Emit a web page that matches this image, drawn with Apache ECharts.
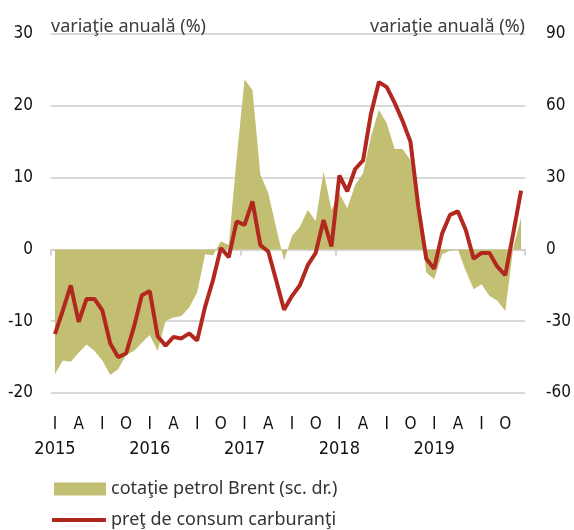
<!DOCTYPE html>
<html>
<head>
<meta charset="utf-8">
<script src="https://cdn.jsdelivr.net/npm/echarts@6/dist/echarts.min.js"></script>
<style>
  html, body { margin: 0; padding: 0; background: #fff; }
  #chart { width: 574px; height: 530px; }
</style>
</head>
<body>
<div id="chart"></div>
<script>
// ani si litere de luna (I = ianuarie, A = aprilie, I = iulie, O = octombrie)
var years = ['2015', '2016', '2017', '2018', '2019'];
var quarterLetters = ['I', 'A', 'I', 'O'];

// luni: 2015-01 ... 2019-12
var months = [];
years.forEach(function (y) {
    for (var m = 1; m <= 12; m++) {
        months.push(y + '-' + (m < 10 ? '0' + m : m));
    }
});

// cotatie petrol Brent, variatie anuala (%) - scala dreapta
var brent = [
    -52.2, -46.4, -46.9, -43.2, -39.7, -42.5, -46.4, -52.5, -50.1, -44.1, -42.5, -39.0,
    -35.8, -42.5, -29.9, -28.5, -27.8, -24.3, -18.0, -2.0, -2.4, 3.4, 1.8, 38.0,
    71.0, 66.6, 31.3, 23.6, 9.0, -4.6, 5.6, 9.5, 16.5, 11.9, 32.5, 16.5,
    23.4, 17.2, 26.9, 31.8, 47.2, 58.3, 52.7, 42.0, 42.0, 37.4, 18.0, -9.7,
    -12.5, -2.0, -0.6, 0.0, -9.0, -16.7, -14.6, -19.5, -21.5, -25.7, 0.5, 13.3
];

// pret de consum carburanti, variatie anuala (%) - scala stanga
var fuel = [
    -11.8, -8.5, -5.0, -10.1, -6.9, -6.9, -8.5, -13.1, -15.0, -14.5, -10.8, -6.4,
    -5.8, -12.1, -13.4, -12.2, -12.4, -11.7, -12.7, -8.0, -4.3, 0.2, -1.1, 3.9,
    3.4, 6.7, 0.6, -0.3, -4.3, -8.4, -6.5, -5.0, -2.2, -0.5, 4.1, 0.4,
    10.3, 8.1, 11.2, 12.4, 18.9, 23.3, 22.6, 20.4, 17.9, 15.0, 5.9, -1.3,
    -2.7, 2.2, 4.8, 5.3, 2.7, -1.3, -0.5, -0.5, -2.4, -3.6, 2.2, 8.2
];

var nameBrent = 'cotaţie petrol Brent (sc. dr.)';
var nameFuel = 'preţ de consum carburanţi';
var axisTitle = 'variaţie anuală (%)';

var numFont = '"Liberation Sans Narrow", "DejaVu Sans Condensed", sans-serif';
var textFont = '"Noto Sans", "Open Sans", sans-serif';

var chart = echarts.init(document.getElementById('chart'), null, { renderer: 'canvas' });

var option = {
    animation: false,
    grid: { left: 51, right: 47, top: 34, bottom: 137, containLabel: false },
    legend: [
        {
            data: [{ name: nameBrent, icon: 'rect' }],
            left: 54, top: 480, padding: 0,
            itemWidth: 52, itemHeight: 13,
            textStyle: { fontSize: 18, lineHeight: 16, color: '#333', fontFamily: textFont }
        },
        {
            data: [{ name: nameFuel, icon: 'rect', itemStyle: { color: '#b2281e' } }],
            left: 52, top: 511, padding: 0,
            itemWidth: 54, itemHeight: 4,
            textStyle: { fontSize: 18, lineHeight: 16, color: '#333', fontFamily: textFont }
        }
    ],
    xAxis: [
        {
            type: 'category',
            data: months,
            position: 'bottom',
            boundaryGap: true,
            axisLine: { onZero: true, lineStyle: { color: '#d4d4d4', width: 2 } },
            axisTick: {
                show: true, length: 6,
                interval: function (i) { return i % 12 === 0; },
                lineStyle: { color: '#d4d4d4', width: 2 }
            },
            axisLabel: { show: false },
            splitLine: { show: false }
        },
        {
            type: 'category',
            data: months,
            position: 'bottom',
            boundaryGap: true,
            axisLine: { show: false, onZero: false },
            axisTick: { show: false },
            splitLine: { show: false },
            axisLabel: {
                interval: 0,
                margin: 22,
                formatter: function (v, i) {
                    if (i % 3 !== 0) return '';
                    var s = '{m|' + quarterLetters[(i % 12) / 3] + '}';
                    if (i % 12 === 0) s += '\n{y|' + years[i / 12] + '}';
                    return s;
                },
                rich: {
                    m: { fontSize: 17, lineHeight: 20, color: '#111', fontFamily: numFont },
                    y: { fontSize: 18, lineHeight: 28, color: '#111', fontFamily: numFont }
                }
            }
        }
    ],
    yAxis: [
        {
            type: 'value',
            min: -20, max: 30, interval: 10,
            name: axisTitle,
            nameLocation: 'end',
            nameGap: -2,
            nameTextStyle: {
                align: 'left', verticalAlign: 'bottom',
                fontSize: 18, color: '#3c3c3c', fontFamily: textFont
            },
            axisLine: { show: false },
            axisTick: { show: false },
            axisLabel: { margin: 18, fontSize: 17, color: '#111', fontFamily: numFont, padding: [4, 0, 0, 0] },
            splitLine: { lineStyle: { color: '#d9d9d9', width: 2 } }
        },
        {
            type: 'value',
            position: 'right',
            min: -60, max: 90, interval: 30,
            name: axisTitle,
            nameLocation: 'end',
            nameGap: -2,
            nameTextStyle: {
                align: 'right', verticalAlign: 'bottom',
                fontSize: 18, color: '#3c3c3c', fontFamily: textFont
            },
            axisLine: { show: false },
            axisTick: { show: false },
            axisLabel: { margin: 21, fontSize: 17, color: '#111', fontFamily: numFont, padding: [4, 0, 0, 0] },
            splitLine: { show: false }
        }
    ],
    series: [
        {
            name: nameBrent,
            type: 'line',
            xAxisIndex: 0,
            yAxisIndex: 1,
            data: brent,
            symbol: 'none',
            lineStyle: { width: 0 },
            itemStyle: { color: '#c2bf73' },
            areaStyle: { color: '#c2bf73', opacity: 1 },
            z: 2
        },
        {
            name: nameFuel,
            type: 'line',
            xAxisIndex: 0,
            yAxisIndex: 0,
            data: fuel,
            symbol: 'none',
            lineStyle: { color: '#b2281e', width: 4 },
            itemStyle: { color: '#b2281e' },
            z: 3
        }
    ]
};

chart.setOption(option);
</script>
</body>
</html>
